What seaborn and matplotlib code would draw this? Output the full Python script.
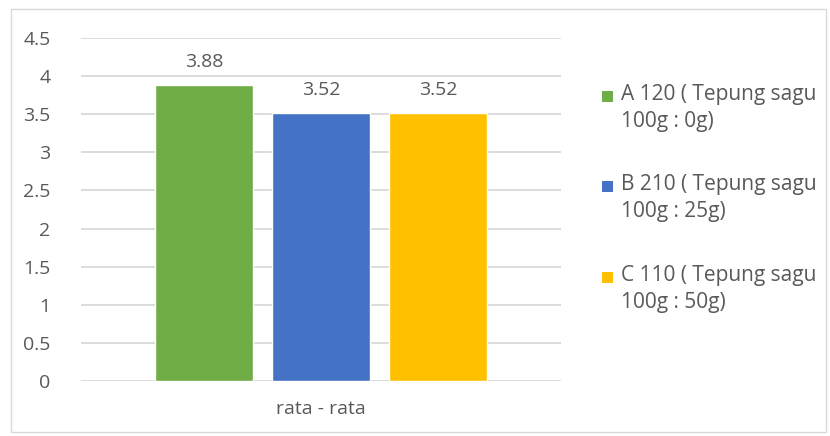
import matplotlib
matplotlib.use("Agg")
import matplotlib.pyplot as plt
from matplotlib.patches import Rectangle
import seaborn as sns
import pandas as pd

categories = ["rata - rata"]
series = ["A 120 ( Tepung sagu\n100g : 0g)",
          "B 210 ( Tepung sagu\n100g : 25g)",
          "C 110 ( Tepung sagu\n100g : 50g)"]
values = [3.88, 3.52, 3.52]
colors = ["#70AD47", "#4472C4", "#FFC000"]
y_ticks = [0, 0.5, 1, 1.5, 2, 2.5, 3, 3.5, 4, 4.5]
y_tick_labels = ["0", "0.5", "1", "1.5", "2", "2.5", "3", "3.5", "4", "4.5"]

sns.set_style("white")
plt.rcParams["font.family"] = ["Open Sans", "DejaVu Sans"]
text_color = "#595959"
grid_color = "#D9D9D9"
fs = 14

df = pd.DataFrame({"cat": categories * len(series), "series": series, "val": values})

W, H = 830, 436
fig = plt.figure(figsize=(W / 100, H / 100), dpi=100)
ax = fig.add_axes([81 / W, 1 - 381 / H, 480 / W, 343 / H])

sns.barplot(data=df, x="cat", y="val", hue="series", palette=colors,
            width=0.731, gap=0.16, ax=ax, legend=False, saturation=1)

ax.set_xlim(-0.5, 0.5)
ax.set_ylim(0, 4.5)
ax.set_yticks(y_ticks)
ax.set_yticklabels(y_tick_labels)
ax.yaxis.grid(True, color=grid_color, linewidth=1.3)
ax.set_axisbelow(True)
for s in ax.spines.values():
    s.set_visible(False)
ax.tick_params(axis="both", length=0, labelsize=fs, labelcolor=text_color)
ax.tick_params(axis="y", pad=22)
ax.tick_params(axis="x", pad=14)
ax.set_xlabel("")
ax.set_ylabel("")

for cont in ax.containers:
    ax.bar_label(cont, fmt="%.2f", padding=10, fontsize=fs, color=text_color)

# legend entries
legend_y = [96, 186, 277]
for lbl, col, y in zip(series, colors, legend_y):
    fig.patches.append(Rectangle((602 / W, 1 - (y + 6) / H), 11 / W, 11 / H,
                                 transform=fig.transFigure, facecolor=col,
                                 edgecolor="none"))
    fig.text(621 / W, 1 - (y - 12) / H, lbl, fontsize=15, color=text_color,
             va="top", ha="left", linespacing=1.35)

# chart border
fig.patches.append(Rectangle((11 / W, 1 - 432 / H), 815 / W, 423 / H,
                             transform=fig.transFigure, facecolor="none",
                             edgecolor=grid_color, linewidth=1))

fig.savefig("out.png", dpi=100)
